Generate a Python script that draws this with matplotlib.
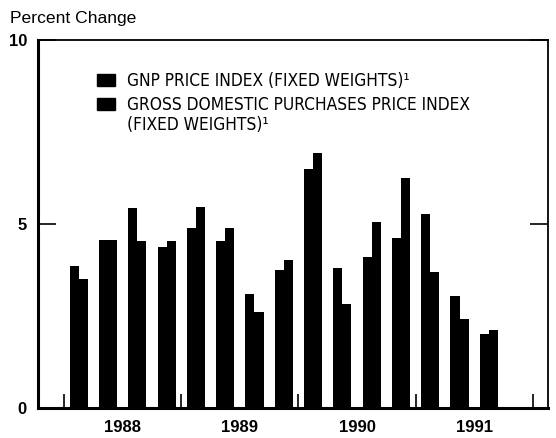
import os
import numpy as np
import matplotlib
matplotlib.use('Agg')
import matplotlib.pyplot as plt
from matplotlib.patches import Rectangle
from matplotlib import font_manager
from matplotlib.font_manager import FontProperties

# dados (variacao percentual, trimestral 1988 T1 - 1991 T3)
years = ['1988', '1989', '1990', '1991']
gnp = [3.85, 4.57, 5.43, 4.37, 4.89, 4.54, 3.1, 3.75, 6.49, 3.8, 4.1, 4.62, 5.27, 3.04, 2.0]
gdp_purch = [3.5, 4.57, 4.54, 4.54, 5.46, 4.89, 2.6, 4.02, 6.93, 2.83, 5.05, 6.25, 3.7, 2.42, 2.12]
labels = ['GNP PRICE INDEX (FIXED WEIGHTS)\u00b9',
          'GROSS DOMESTIC PURCHASES PRICE INDEX\n(FIXED WEIGHTS)\u00b9']

plt.rcParams['font.family'] = ['Liberation Sans', 'DejaVu Sans']

# procura uma fonte condensada para a legenda
prefer = ['LiberationSansNarrow-Regular', 'DejaVuSansCondensed.', 'NotoSans-Condensed.',
          'RobotoCondensed-Regular', 'Roboto_Condensed-Regular', 'OpenSans_Condensed-Regular',
          'NotoSans-SemiCondensed.']
files = [f.fname for f in font_manager.fontManager.ttflist]
leg_font = None
for p in prefer:
    hit = [f for f in files if p in os.path.basename(f)]
    if hit:
        leg_font = FontProperties(fname=hit[0], size=12.4)
        break
if leg_font is None:
    leg_font = FontProperties(family='Liberation Sans', size=11)

fig = plt.figure(figsize=(5.56, 4.38), dpi=100)
ax = fig.add_axes([38/556, 30/438, 510/556, 368/438])

x = np.arange(len(gnp)) + 0.5
w = 0.31
ax.bar(x - w/2, gnp, w, color='black', linewidth=0)
ax.bar(x + w/2, gdp_purch, w, color='black', linewidth=0)

ax.set_xlim(-0.89, 16.52)
ax.set_ylim(0, 10)

ax.set_yticks([0, 5, 10])
ax.set_yticklabels(['0', '5', '10'], fontsize=12, fontweight='bold')
ax.tick_params(axis='y', direction='in', length=13, width=1.2, pad=8,
               right=True, left=True)

ax.set_xticks([2, 6, 10, 14])
ax.set_xticklabels(years, fontsize=12, fontweight='bold')
ax.set_xticks([0, 4, 8, 12, 16], minor=True)
ax.tick_params(axis='x', which='major', length=0, pad=9)
ax.tick_params(axis='x', which='minor', direction='in', length=10, width=1.2)

for s in ['left', 'bottom']:
    ax.spines[s].set_linewidth(2.2)
for s in ['top', 'right']:
    ax.spines[s].set_linewidth(1.3)

fig.text(10/556, 1 - 18/438, 'Percent Change', fontsize=12.6, va='center', ha='left')

# legenda manual
for yc, lab in zip([80, 104], labels):
    ya = (408 - yc) / 368
    ax.add_patch(Rectangle(((97-38)/510, ya - 6/368), 18/510, 12/368,
                           transform=ax.transAxes, color='black'))
    ax.text((127-38)/510, ya + 8/368, lab, transform=ax.transAxes, va='top', ha='left',
            fontproperties=leg_font, linespacing=1.12)

fig.savefig('out.png', dpi=100)
